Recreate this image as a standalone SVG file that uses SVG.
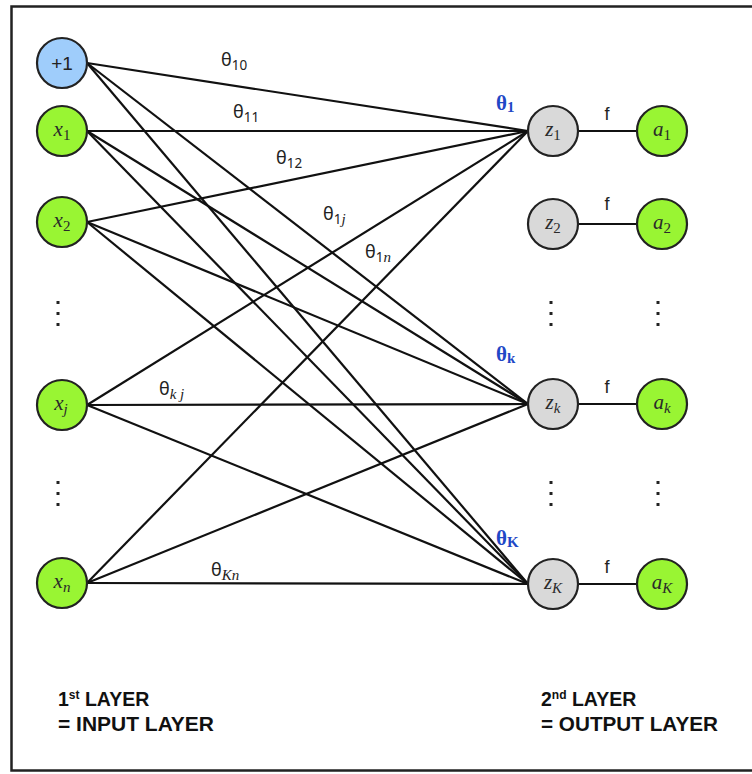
<svg xmlns="http://www.w3.org/2000/svg" width="752" height="774" viewBox="0 0 752 774">
  <style>
    .node { stroke: #222; stroke-width: 2.2; }
    .bias { fill: #9fcdfb; }
    .inp { fill: #99f533; }
    .sum { fill: #d9d9d9; }
    .act { fill: #99f533; }
    .edge { stroke: #111; stroke-width: 2.2; fill: none; }
    .var { font-family: "Liberation Serif", "DejaVu Serif", serif; font-style: italic; font-size: 21px; fill: #2a2a2a; }
    .sub { font-family: "Liberation Serif", "DejaVu Serif", serif; font-style: normal; font-size: 15px; }
    .subi { font-family: "Liberation Serif", "DejaVu Serif", serif; font-style: italic; font-size: 15px; }
    .th { font-family: "Noto Sans", "DejaVu Sans", sans-serif; font-size: 18px; fill: #222; }
    .ths { font-size: 13.5px; }
    .thi { font-family: "Liberation Serif", serif; font-style: italic; font-size: 15px; }
    .blue { font-family: "Liberation Serif", "DejaVu Serif", serif; font-weight: bold; font-size: 21px; fill: #1f48c6; }
    .f { font-family: "Liberation Sans", Arial, sans-serif; font-size: 18px; fill: #222; }
    .cap { font-family: "Liberation Sans", Arial, sans-serif; font-weight: bold; font-size: 19.5px; fill: #111; }
    .dot { fill: #222; }
  </style>

  <!-- frame -->
  <rect x="11.5" y="6.5" width="770" height="764" fill="#fff" stroke="#222" stroke-width="2.5"/>

  <!-- connectors -->
  <g id="connectors">
    <!-- bias -->
    <line class="edge" x1="87" y1="63" x2="528" y2="131"/>
    <line class="edge" x1="87" y1="63" x2="528" y2="404"/>
    <line class="edge" x1="87" y1="63" x2="528" y2="584"/>
    <!-- x1 -->
    <line class="edge" x1="87" y1="131" x2="528" y2="131"/>
    <line class="edge" x1="87" y1="131" x2="528" y2="404"/>
    <line class="edge" x1="87" y1="131" x2="528" y2="584"/>
    <!-- x2 -->
    <line class="edge" x1="87" y1="222" x2="528" y2="131"/>
    <line class="edge" x1="87" y1="222" x2="528" y2="404"/>
    <line class="edge" x1="87" y1="222" x2="528" y2="584"/>
    <!-- xj -->
    <line class="edge" x1="87" y1="405" x2="528" y2="131"/>
    <line class="edge" x1="87" y1="405" x2="528" y2="404"/>
    <line class="edge" x1="87" y1="405" x2="528" y2="584"/>
    <!-- xn -->
    <line class="edge" x1="87" y1="583" x2="528" y2="131"/>
    <line class="edge" x1="87" y1="583" x2="528" y2="404"/>
    <line class="edge" x1="87" y1="583" x2="528" y2="584"/>
    <!-- activation links -->
    <line class="edge" x1="578" y1="131" x2="637" y2="131"/>
    <line class="edge" x1="578" y1="224" x2="637" y2="224"/>
    <line class="edge" x1="578" y1="404" x2="637" y2="404"/>
    <line class="edge" x1="578" y1="584" x2="637" y2="584"/>
  </g>

  <!-- weight labels -->
  <g id="weights">
    <text class="th" x="221" y="66">θ<tspan class="ths" dy="4">10</tspan></text>
    <text class="th" x="233" y="118">θ<tspan class="ths" dy="4">11</tspan></text>
    <text class="th" x="276" y="164">θ<tspan class="ths" dy="4">12</tspan></text>
    <text class="th" x="323" y="220">θ<tspan class="ths" dy="4">1</tspan><tspan class="thi">j</tspan></text>
    <text class="th" x="365" y="258">θ<tspan class="ths" dy="4">1</tspan><tspan class="thi">n</tspan></text>
    <text class="th" x="159" y="395">θ<tspan class="thi" dy="4">k j</tspan></text>
    <text class="th" x="211" y="576">θ<tspan class="thi" dy="4">Kn</tspan></text>
    <text class="blue" x="496" y="110">θ<tspan font-size="15" dy="2">1</tspan></text>
    <text class="blue" x="496" y="361">θ<tspan font-size="15" dy="2">k</tspan></text>
    <text class="blue" x="496" y="545">θ<tspan font-size="15" dy="2">K</tspan></text>
  </g>

  <!-- input layer -->
  <g id="node-bias">
    <circle class="node bias" cx="62" cy="63" r="25"/>
    <text x="62" y="70" text-anchor="middle" font-family="Liberation Sans, Arial, sans-serif" font-size="19" fill="#222">+1</text>
  </g>
  <g id="node-x1">
    <circle class="node inp" cx="62" cy="131" r="25"/>
    <text class="var" x="62" y="136" text-anchor="middle">x<tspan class="sub" dy="4">1</tspan></text>
  </g>
  <g id="node-x2">
    <circle class="node inp" cx="62" cy="222" r="25"/>
    <text class="var" x="62" y="227" text-anchor="middle">x<tspan class="sub" dy="4">2</tspan></text>
  </g>
  <g id="node-xj">
    <circle class="node inp" cx="62" cy="405" r="25"/>
    <text class="var" x="61" y="410" text-anchor="middle">x<tspan class="subi" dy="4">j</tspan></text>
  </g>
  <g id="node-xn">
    <circle class="node inp" cx="62" cy="583" r="25"/>
    <text class="var" x="62" y="588" text-anchor="middle">x<tspan class="subi" dy="4">n</tspan></text>
  </g>

  <!-- output layer: sums -->
  <g id="node-z1">
    <circle class="node sum" cx="553" cy="131" r="25"/>
    <text class="var" x="553" y="136" text-anchor="middle">z<tspan class="sub" dy="4">1</tspan></text>
  </g>
  <g id="node-z2">
    <circle class="node sum" cx="553" cy="224" r="25"/>
    <text class="var" x="553" y="229" text-anchor="middle">z<tspan class="sub" dy="4">2</tspan></text>
  </g>
  <g id="node-zk">
    <circle class="node sum" cx="553" cy="404" r="25"/>
    <text class="var" x="553" y="409" text-anchor="middle">z<tspan class="subi" dy="4">k</tspan></text>
  </g>
  <g id="node-zK">
    <circle class="node sum" cx="553" cy="584" r="25"/>
    <text class="var" x="553" y="589" text-anchor="middle">z<tspan class="subi" dy="4">K</tspan></text>
  </g>

  <!-- output layer: activations -->
  <g id="node-a1">
    <circle class="node act" cx="662" cy="131" r="25"/>
    <text class="var" x="662" y="136" text-anchor="middle">a<tspan class="sub" dy="4">1</tspan></text>
  </g>
  <g id="node-a2">
    <circle class="node act" cx="662" cy="224" r="25"/>
    <text class="var" x="662" y="229" text-anchor="middle">a<tspan class="sub" dy="4">2</tspan></text>
  </g>
  <g id="node-ak">
    <circle class="node act" cx="662" cy="404" r="25"/>
    <text class="var" x="662" y="409" text-anchor="middle">a<tspan class="subi" dy="4">k</tspan></text>
  </g>
  <g id="node-aK">
    <circle class="node act" cx="662" cy="584" r="25"/>
    <text class="var" x="662" y="589" text-anchor="middle">a<tspan class="subi" dy="4">K</tspan></text>
  </g>

  <!-- activation function labels -->
  <g id="f-labels">
    <text class="f" x="607" y="120" text-anchor="middle">f</text>
    <text class="f" x="607" y="210" text-anchor="middle">f</text>
    <text class="f" x="607" y="393" text-anchor="middle">f</text>
    <text class="f" x="607" y="573" text-anchor="middle">f</text>
  </g>

  <!-- vertical ellipses -->
  <g id="ellipses">
    <rect class="dot" x="56.5" y="301" width="3" height="3"/>
    <rect class="dot" x="56.5" y="312" width="3" height="3"/>
    <rect class="dot" x="56.5" y="323" width="3" height="3"/>
    <rect class="dot" x="56.5" y="481" width="3" height="3"/>
    <rect class="dot" x="56.5" y="492" width="3" height="3"/>
    <rect class="dot" x="56.5" y="503" width="3" height="3"/>
    <rect class="dot" x="549.5" y="301" width="3" height="3"/>
    <rect class="dot" x="549.5" y="312" width="3" height="3"/>
    <rect class="dot" x="549.5" y="323" width="3" height="3"/>
    <rect class="dot" x="549.5" y="481" width="3" height="3"/>
    <rect class="dot" x="549.5" y="492" width="3" height="3"/>
    <rect class="dot" x="549.5" y="503" width="3" height="3"/>
    <rect class="dot" x="656.5" y="301" width="3" height="3"/>
    <rect class="dot" x="656.5" y="312" width="3" height="3"/>
    <rect class="dot" x="656.5" y="323" width="3" height="3"/>
    <rect class="dot" x="656.5" y="481" width="3" height="3"/>
    <rect class="dot" x="656.5" y="492" width="3" height="3"/>
    <rect class="dot" x="656.5" y="503" width="3" height="3"/>
  </g>

  <!-- layer captions -->
  <g id="captions">
    <text class="cap" x="58" y="706">1<tspan font-size="12" dy="-7">st</tspan><tspan dy="7"> LAYER</tspan></text>
    <text class="cap" x="58" y="731" textLength="156" lengthAdjust="spacingAndGlyphs">= INPUT LAYER</text>
    <text class="cap" x="541" y="706">2<tspan font-size="12" dy="-7">nd</tspan><tspan dy="7"> LAYER</tspan></text>
    <text class="cap" x="541" y="731" textLength="177" lengthAdjust="spacingAndGlyphs">= OUTPUT LAYER</text>
  </g>
</svg>
